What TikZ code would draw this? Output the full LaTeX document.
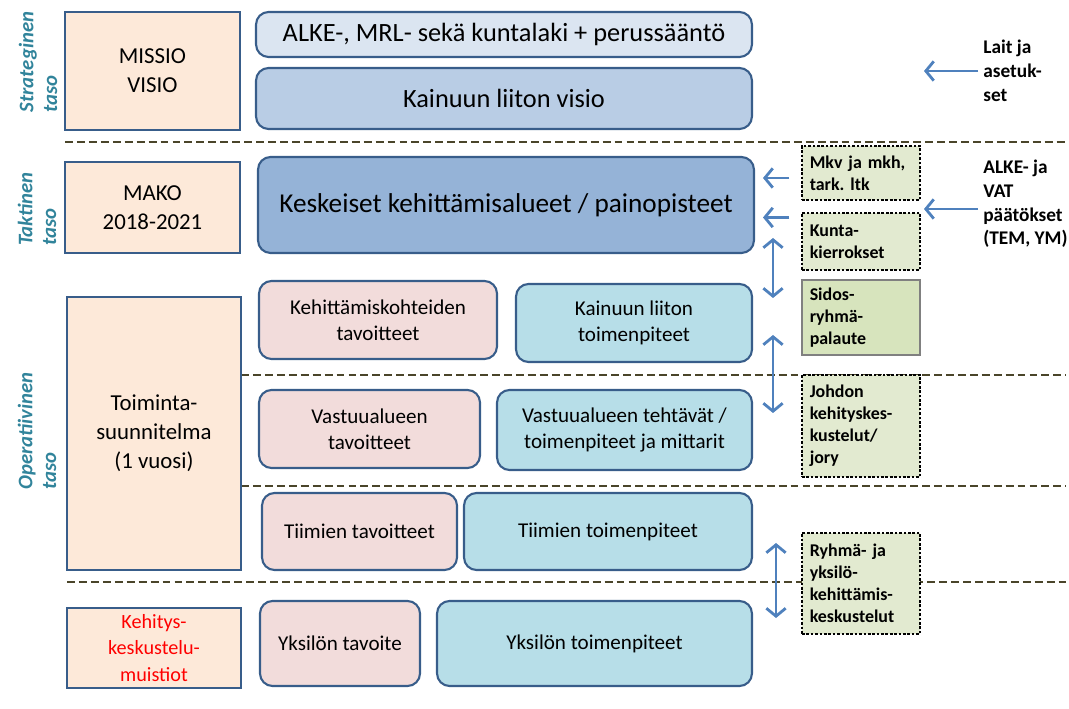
\documentclass[tikz,border=0pt]{standalone}
\usepackage{fontspec}
\setmainfont{Carlito}
\usetikzlibrary{arrows.meta}
\frenchspacing
\definecolor{rand}{HTML}{385D8A}
\definecolor{persikka}{HTML}{FDE9D9}
\definecolor{vaalsin}{HTML}{DBE5F1}
\definecolor{sini}{HTML}{B9CDE5}
\definecolor{tummsin}{HTML}{95B3D7}
\definecolor{roosa}{HTML}{F2DCDB}
\definecolor{turkoosi}{HTML}{B7DEE8}
\definecolor{vihrea}{HTML}{E2EAD0}
\definecolor{vihrea2}{HTML}{D7E4BD}
\definecolor{nuoli}{HTML}{4F81BD}
\definecolor{taso}{HTML}{31849B}
\definecolor{viiva}{HTML}{4A452A}
\tikzset{
    peachbox/.style={draw=rand, line width=1.2pt, fill=persikka, align=center, font=\fontsize{13}{16.5}\selectfont},
    roundbox/.style={draw=rand, line width=1.2pt, rounded corners=0.25cm, align=center, font=\fontsize{12}{15}\selectfont},
    notebox/.style={draw=black, line width=0.6pt, dash pattern=on 1.5pt off 1pt, fill=vihrea, minimum width=2.36cm,
        text width=2.05cm, inner xsep=0.15cm, align=left, font=\bfseries\fontsize{10.2}{12.6}\selectfont},
    tasolabel/.style={rotate=90, align=left, text=taso, font=\bfseries\itshape\fontsize{11.8}{13.5}\selectfont},
    sideinfo/.style={anchor=west, align=left, inner sep=0.1cm, font=\bfseries\fontsize{11}{13.5}\selectfont},
    sepline/.style={draw=viiva, line width=1.2pt, dash pattern=on 4.5pt off 2.3pt},
    arr/.style={draw=nuoli, line width=1.6pt, -{Straight Barb[length=4.5pt,width=11pt]}},
    darr/.style={draw=nuoli, line width=1.6pt, {Straight Barb[length=4.5pt,width=11pt]}-{Straight Barb[length=4.5pt,width=11pt]}}
}
\begin{document}
\begin{tikzpicture}[x=0.02cm, y=-0.02cm]
    \useasboundingbox (0,0) rectangle (1069,709);
    % tasot
    \foreach \y/\xa in {142/65,375/241,486/241,582/67}
        \draw[sepline] (\xa,\y) -- (1066,\y);
    \node[tasolabel] (strat) at (38,62) {Strateginen\\taso};
    \node[tasolabel] (takt) at (37,209) {Taktinen\\taso};
    \node[tasolabel] (oper) at (37,431) {Operatiivinen\\taso};
    % vasen sarake
    \node[peachbox, minimum width=3.5cm, minimum height=2.36cm] (missio) at (152.5,71) {MISSIO\\VISIO};
    \node[peachbox, minimum width=3.5cm, minimum height=1.82cm] (mako) at (152.5,207.5) {MAKO\\2018-2021};
    \node[peachbox, minimum width=3.48cm, minimum height=5.46cm] (toimsuun) at (154,433.5) {Toiminta-\\suunnitelma\\(1 vuosi)};
    \node[peachbox, minimum width=3.48cm, minimum height=1.6cm, text=red, font=\fontsize{11.5}{15}\selectfont] (kehkesk) at (154,648) {Kehitys-\\keskustelu-\\muistiot};
    % keskisarake
    \node[roundbox, fill=vaalsin, minimum width=9.92cm, minimum height=0.9cm, font=\fontsize{15}{17}\selectfont] (lait) at (504,34.5) {ALKE-, MRL- sekä kuntalaki + perussääntö};
    \node[roundbox, fill=sini, minimum width=9.92cm, minimum height=1.22cm, font=\fontsize{15}{17}\selectfont] (visio) at (504,98.5) {Kainuun liiton visio};
    \node[roundbox, fill=tummsin, minimum width=9.92cm, minimum height=1.92cm, font=\fontsize{15.5}{18}\selectfont] (painop) at (506,205) {Keskeiset kehittämisalueet / painopisteet};
    \node[roundbox, fill=roosa, minimum width=4.76cm, minimum height=1.56cm] (kohtav) at (378,320) {Kehittämiskohteiden\\tavoitteet};
    \node[roundbox, fill=turkoosi, minimum width=4.72cm, minimum height=1.56cm] (liittp) at (634,323) {Kainuun liiton\\toimenpiteet};
    \node[roundbox, fill=roosa, minimum width=4.42cm, minimum height=1.56cm] (vastav) at (369.5,429) {Vastuualueen\\tavoitteet};
    \node[roundbox, fill=turkoosi, minimum width=5.1cm, minimum height=1.6cm] (vastp) at (624.5,430) {Vastuualueen tehtävät /\\toimenpiteet ja mittarit};
    \node[roundbox, fill=roosa, minimum width=3.9cm, minimum height=1.54cm] (tiimtav) at (359.5,531.5) {Tiimien tavoitteet};
    \node[roundbox, fill=turkoosi, minimum width=5.76cm, minimum height=1.54cm] (tiimtp) at (608,531.5) {Tiimien toimenpiteet};
    \node[roundbox, fill=roosa, minimum width=3.2cm, minimum height=1.7cm] (yksitav) at (340,643.5) {Yksilön tavoite};
    \node[roundbox, fill=turkoosi, minimum width=6.3cm, minimum height=1.7cm] (yksitp) at (594.5,643.5) {Yksilön toimenpiteet};
    % oikea sarake
    \node[notebox, minimum height=1.08cm] (mkv) at (861,173) {Mkv ja mkh,\\tark. ltk};
    \node[notebox, minimum height=1.14cm] (kunta) at (861,241.5) {Kunta-\\kierrokset};
    \node[notebox, minimum height=1.5cm, draw=gray, solid, fill=vihrea2] (sidos) at (861,317.5) {Sidos-\\ryhmä-\\palaute};
    \node[notebox, minimum height=2.04cm] (johdon) at (861,426) {Johdon\\kehityskes-\\kustelut/\\jory};
    \node[notebox, minimum height=2.02cm] (ryhma) at (861,583.5) {Ryhmä- ja\\yksilö-\\kehittämis-\\keskustelut};
    \node[sideinfo] (laitas) at (978,71) {Lait ja\\asetuk-\\set};
    \node[sideinfo] (alkevat) at (978,204) {ALKE- ja\\VAT\\päätökset\\(TEM, YM)};
    % nuolet
    \draw[arr] (laitas.west) -- ++(-54,0);
    \draw[arr] ([yshift=-0.1cm]alkevat.west) -- ++(-54,0);
    \draw[arr] ([xshift=-0.24cm,yshift=-0.1cm]mkv.west) -- ([xshift=0.16cm,yshift=-0.1cm]painop.east |- mkv.west);
    \draw[arr] ([xshift=-0.24cm,yshift=-0.1cm]kunta.north west) -- ([xshift=0.16cm,yshift=-0.1cm]painop.east |- kunta.north west);
    \coordinate (v1a) at (773,238);
    \coordinate (v1b) at (773,298);
    \coordinate (v2a) at (773,335);
    \coordinate (v2b) at (773,413);
    \coordinate (v3a) at (776,543);
    \coordinate (v3b) at (776,618);
    \draw[darr] (v1a) -- (v1b);
    \draw[darr] (v2a) -- (v2b);
    \draw[darr] (v3a) -- (v3b);
\end{tikzpicture}
\end{document}
